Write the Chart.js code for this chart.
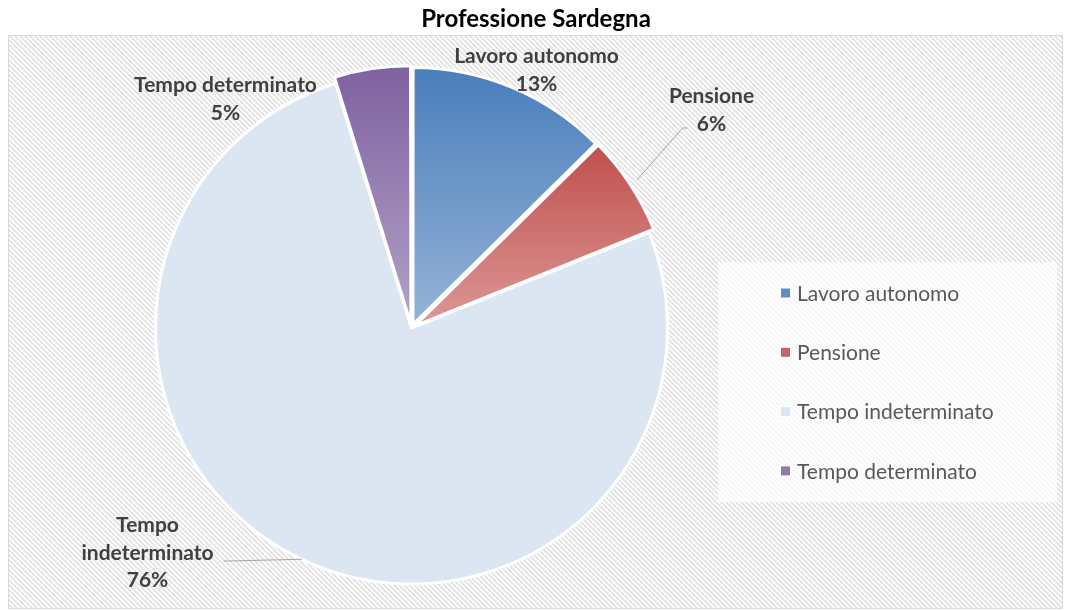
<!DOCTYPE html>
<html>
<head>
<meta charset="utf-8">
<script src="https://cdn.jsdelivr.net/npm/chart.js@4.4.1/dist/chart.umd.min.js"></script>
<style>
  html, body { margin: 0; padding: 0; background: #fff; }
  #wrap { width: 1065px; height: 611px; }
</style>
</head>
<body>
<div id="wrap"><canvas id="chart" width="1065" height="611"></canvas></div>
<script>
// Dati
const chartTitle = 'Professione Sardegna';
const categories = ['Lavoro autonomo', 'Pensione', 'Tempo indeterminato', 'Tempo determinato'];
const values = [12.6, 6.3, 76.3, 4.8];

// Stile
const topColors = ['#4a7ebb', '#c0504d', '#dce6f2', '#7f62a0'];
const bottomColors = ['#95b3d7', '#dc9896', '#dce6f2', '#b3a2c7'];
const legendColors = ['#5f8cc4', '#c96461', '#dce6f2', '#9079ad'];
const explode = [15, 14, 0, 15];
const pieRadius = 256;
const FONT = 'Lato, "Open Sans", sans-serif';

// posizione delle etichette rispetto al centro della torta
const labelPos = [[125, -258], [300, -218], [-264, 225], [-186, -229]];
const labelWrap = [false, false, true, false];
// fine delle linee guida rispetto all'etichetta (null = nessuna linea)
const leaderEnd = [null, [-24, 18], [76, 8], null];

const plotRect = { left: 8, top: 35, right: 1063, bottom: 609 };
const legendRect = { left: 718, top: 262, width: 339, height: 240 };

function sliceRange(i, cy, r) {
  const total = values.reduce((a, b) => a + b, 0);
  let cum = 0;
  for (let k = 0; k < i; k++) cum += values[k];
  const a0 = -Math.PI / 2 + 2 * Math.PI * cum / total;
  const a1 = a0 + 2 * Math.PI * values[i] / total;
  const ys = [cy, cy + r * Math.sin(a0), cy + r * Math.sin(a1)];
  // controlla se il settore contiene il punto piu' alto / basso
  [-Math.PI / 2, Math.PI / 2, 3 * Math.PI / 2].forEach(a => {
    if (a > a0 && a < a1) ys.push(cy + r * Math.sin(a));
  });
  return [Math.min(...ys), Math.max(...ys)];
}

function sliceGradient(ctx) {
  const i = ctx.dataIndex;
  const area = ctx.chart.chartArea;
  if (!area || ctx.type !== 'data') return topColors[i];
  const cy = (area.top + area.bottom) / 2;
  const [y0, y1] = sliceRange(i, cy, pieRadius);
  const g = ctx.chart.ctx.createLinearGradient(0, y0, 0, y1);
  g.addColorStop(0, topColors[i]);
  g.addColorStop(1, bottomColors[i]);
  return g;
}

const backgroundPlugin = {
  id: 'hatchBackground',
  beforeDraw(chart) {
    const c = chart.ctx;
    c.save();
    c.fillStyle = '#fff';
    c.fillRect(0, 0, chart.width, chart.height);
    // titolo
    c.font = 'bold 24px ' + FONT;
    c.fillStyle = '#000';
    c.textAlign = 'center';
    c.textBaseline = 'alphabetic';
    c.fillText(chartTitle, 536, 27);
    const { left, top, right, bottom } = plotRect;
    c.beginPath();
    c.rect(left, top, right - left, bottom - top);
    c.clip();
    c.strokeStyle = '#e3e3e3';
    c.lineWidth = 1.8;
    const h = bottom - top;
    for (let x = left - h; x < right; x += 5) {
      c.beginPath();
      c.moveTo(x, top);
      c.lineTo(x + h, bottom);
      c.stroke();
    }
    c.restore();
    c.save();
    c.strokeStyle = '#d9d9d9';
    c.lineWidth = 1;
    c.strokeRect(left + 0.5, top + 0.5, right - left - 1, bottom - top - 1);
    c.restore();
  }
};

const legendPlugin = {
  id: 'boxLegend',
  afterDatasetsDraw(chart) {
    const c = chart.ctx;
    const L = legendRect;
    c.save();
    c.fillStyle = 'rgba(255,255,255,0.7)';
    c.fillRect(L.left, L.top, L.width, L.height);
    c.font = '21px ' + FONT;
    c.textBaseline = 'middle';
    c.textAlign = 'left';
    const step = 59.3;
    categories.forEach((name, i) => {
      const y = L.top + 31 + i * step;
      c.fillStyle = '#fff';
      c.fillRect(L.left + 62, y - 5.5, 11, 11);
      c.fillStyle = legendColors[i];
      c.fillRect(L.left + 63, y - 4.5, 9, 9);
      c.fillStyle = '#595959';
      c.fillText(name, L.left + 79, y + 1);
    });
    c.restore();
  }
};

const labelPlugin = {
  id: 'sliceLabels',
  afterDatasetsDraw(chart) {
    const c = chart.ctx;
    const area = chart.chartArea;
    const cx = (area.left + area.right) / 2;
    const cy = (area.top + area.bottom) / 2;
    const total = values.reduce((a, b) => a + b, 0);
    const meta = chart.getDatasetMeta(0);
    c.save();
    meta.data.forEach((arc, i) => {
      const p = arc.getProps(['x', 'y', 'startAngle', 'endAngle', 'outerRadius'], true);
      const lx = cx + labelPos[i][0];
      const ly = cy + labelPos[i][1];
      if (leaderEnd[i]) {
        const mid = (p.startAngle + p.endAngle) / 2;
        const d = p.outerRadius + (explode[i] || 0);
        const sx = p.x + Math.cos(mid) * d;
        const sy = p.y + Math.sin(mid) * d;
        const ex = lx + leaderEnd[i][0];
        const ey = ly + leaderEnd[i][1];
        const elbow = ex + Math.sign(sx - ex) * 5;
        c.strokeStyle = '#a6a6a6';
        c.lineWidth = 1;
        c.beginPath();
        c.moveTo(sx, sy);
        c.lineTo(elbow, ey);
        c.lineTo(ex, ey);
        c.stroke();
      }
      const pct = Math.round(values[i] / total * 100) + '%';
      const lines = labelWrap[i] ? categories[i].split(' ').concat([pct]) : [categories[i], pct];
      c.font = 'bold 21px ' + FONT;
      c.fillStyle = '#404040';
      c.textAlign = 'center';
      c.textBaseline = 'middle';
      const lh = 27.5;
      const y0 = ly - (lines.length - 1) * lh / 2;
      lines.forEach((t, k) => c.fillText(t, lx, y0 + k * lh));
    });
    c.restore();
  }
};

new Chart(document.getElementById('chart'), {
  type: 'pie',
  data: {
    labels: categories,
    datasets: [{
      data: values,
      backgroundColor: sliceGradient,
      borderColor: '#ffffff',
      borderWidth: 3,
      offset: explode,
      radius: pieRadius
    }]
  },
  options: {
    responsive: false,
    animation: false,
    layout: { padding: { left: 0, right: 242, top: 45, bottom: 0 } },
    plugins: {
      legend: { display: false },
      tooltip: { enabled: false },
      title: { display: false }
    }
  },
  plugins: [backgroundPlugin, legendPlugin, labelPlugin]
});
</script>
</body>
</html>
